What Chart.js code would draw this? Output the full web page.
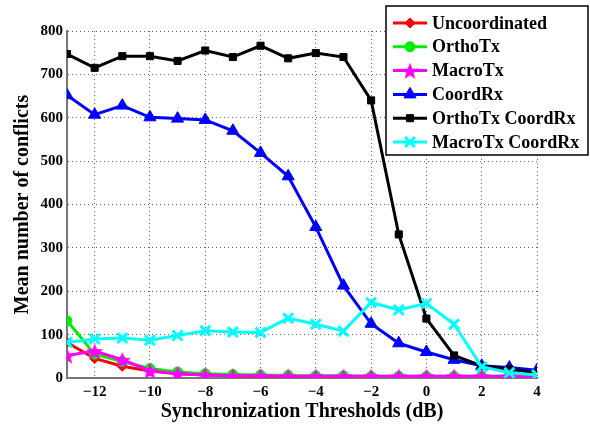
<!DOCTYPE html>
<html>
<head>
<meta charset="utf-8">
<script src="https://cdn.jsdelivr.net/npm/chart.js@4/dist/chart.umd.min.js"></script>
<style>
  html, body { margin: 0; padding: 0; background: #fff; }
  #wrap { width: 590px; height: 424px; position: relative; }
</style>
</head>
<body>
<div id="wrap"><canvas id="chart"></canvas></div>
<script>
// ==================== DATA ====================
const thresholds = [-13, -12, -11, -10, -9, -8, -7, -6, -5, -4, -3, -2, -1, 0, 1, 2, 3, 4];
const xTicks = [-12, -10, -8, -6, -4, -2, 0, 2, 4];
const yTicks = [0, 100, 200, 300, 400, 500, 600, 700, 800];

const seriesNames = ['Uncoordinated', 'OrthoTx', 'MacroTx', 'CoordRx', 'OrthoTx CoordRx', 'MacroTx CoordRx'];
const uncoordinated = [82, 45, 27, 16, 10, 7, 5, 4, 4, 3, 3, 3, 3, 3, 3, 3, 3, 3];
const orthoTx = [132, 55, 38, 22, 14, 10, 8, 7, 6, 5, 5, 4, 4, 4, 4, 4, 4, 4];
const macroTx = [52, 62, 42, 17, 10, 7, 5, 5, 4, 4, 4, 4, 4, 4, 4, 4, 4, 4];
const coordRx = [652, 607, 628, 601, 598, 595, 570, 519, 465, 348, 213, 125, 80, 60, 42, 28, 24, 18];
const orthoTxCoordRx = [747, 715, 742, 742, 731, 755, 740, 766, 737, 749, 740, 640, 331, 137, 52, 28, 20, 12];
const macroTxCoordRx = [82, 90, 92, 87, 98, 109, 106, 105, 138, 124, 108, 174, 157, 172, 124, 26, 12, 7];

const serifFamily = '"Liberation Serif", "DejaVu Serif", serif';

// filled five-point star marker (MATLAB style pentagram)
function makeStar(color, r) {
  const c = document.createElement('canvas');
  const size = Math.ceil(r * 2 + 4);
  c.width = c.height = size;
  const g = c.getContext('2d');
  const cx = size / 2, cy = size / 2 + 1;
  g.beginPath();
  for (let i = 0; i < 10; i++) {
    const rad = i % 2 === 0 ? r : r * 0.42;
    const a = -Math.PI / 2 + i * Math.PI / 5;
    const px = cx + rad * Math.cos(a), py = cy + rad * Math.sin(a);
    if (i === 0) g.moveTo(px, py); else g.lineTo(px, py);
  }
  g.closePath();
  g.fillStyle = color;
  g.fill();
  return c;
}

const starMarker = makeStar('#ff00ff', 9);

const styles = [
  { color: '#ff0000', pointStyle: 'rectRot', radius: 5 },
  { color: '#00ee00', pointStyle: 'circle', radius: 5 },
  { color: '#ff00ff', pointStyle: starMarker, radius: 8 },
  { color: '#0000ff', pointStyle: 'triangle', radius: 7 },
  { color: '#000000', pointStyle: 'rect', radius: 5 },
  { color: '#00ffff', pointStyle: 'crossRot', radius: 7 }
];

const values = [uncoordinated, orthoTx, macroTx, coordRx, orthoTxCoordRx, macroTxCoordRx];

const datasets = values.map((vals, i) => ({
  label: seriesNames[i],
  data: vals.map((v, k) => ({ x: thresholds[k], y: v })),
  borderColor: styles[i].color,
  backgroundColor: styles[i].color,
  pointBorderColor: styles[i].color,
  pointBackgroundColor: styles[i].color,
  pointStyle: styles[i].pointStyle,
  pointRadius: styles[i].radius,
  pointBorderWidth: i === 5 ? 3 : 1,
  borderWidth: 3,
  tension: 0,
  order: 5 - i
}));

// legend box drawn like MATLAB's
const matlabLegend = {
  id: 'matlabLegend',
  afterDraw(chart) {
    const ctx = chart.ctx;
    const left = 386, top = 6, width = 202, height = 149;
    ctx.save();
    ctx.fillStyle = '#fff';
    ctx.fillRect(left, top, width, height);
    ctx.strokeStyle = '#000';
    ctx.lineWidth = 1.5;
    ctx.strokeRect(left, top, width, height);
    ctx.font = 'bold 18px ' + serifFamily;
    ctx.textBaseline = 'middle';
    chart.data.datasets.forEach((ds, i) => {
      const y = 23 + i * 23.8;
      ctx.strokeStyle = ds.borderColor;
      ctx.fillStyle = ds.borderColor;
      ctx.lineWidth = 3;
      ctx.beginPath();
      ctx.moveTo(393, y);
      ctx.lineTo(427, y);
      ctx.stroke();
      ctx.lineWidth = ds.pointBorderWidth;
      Chart.helpers.drawPoint(ctx, {
        pointStyle: ds.pointStyle,
        radius: ds.pointRadius,
        rotation: 0,
        borderWidth: ds.pointBorderWidth
      }, 410, y);
      ctx.fillStyle = '#000';
      ctx.fillText(ds.label, 432, y + 1);
    });
    ctx.restore();
  }
};

const minus = v => (v < 0 ? '\u2212' + Math.abs(v) : String(v));

new Chart(document.getElementById('chart'), {
  type: 'line',
  data: { datasets },
  plugins: [matlabLegend],
  options: {
    responsive: true,
    maintainAspectRatio: false,
    animation: false,
    layout: { padding: { top: 31, right: 53, left: 0, bottom: 0 } },
    plugins: {
      legend: { display: false },
      tooltip: { enabled: false }
    },
    scales: {
      x: {
        type: 'linear',
        min: -13,
        max: 4,
        afterBuildTicks: axis => { axis.ticks = xTicks.map(v => ({ value: v })); },
        afterFit: axis => { axis.height = 46; },
        ticks: {
          color: '#000',
          font: { family: serifFamily, weight: 'bold', size: 15 },
          padding: 5,
          maxRotation: 0,
          callback: v => minus(v)
        },
        grid: {
          color: '#666',
          lineWidth: 1,
          drawTicks: false
        },
        border: { display: true, color: '#777', width: 2, dash: [1, 3] },
        title: {
          display: true,
          text: 'Synchronization Thresholds (dB)',
          color: '#000',
          font: { family: serifFamily, weight: 'bold', size: 20 },
          padding: { top: 0, bottom: 0 }
        }
      },
      y: {
        min: 0,
        max: 800,
        afterBuildTicks: axis => { axis.ticks = yTicks.map(v => ({ value: v })); },
        afterFit: axis => { axis.width = 67; },
        ticks: {
          color: '#000',
          font: { family: serifFamily, weight: 'bold', size: 15 },
          padding: 4
        },
        grid: {
          color: '#666',
          lineWidth: 1,
          drawTicks: false
        },
        border: { display: true, color: '#777', width: 2, dash: [1, 3] },
        title: {
          display: true,
          text: 'Mean number of conflicts',
          color: '#000',
          font: { family: serifFamily, weight: 'bold', size: 20 },
          padding: { top: 11, bottom: 0 }
        }
      }
    }
  }
});
</script>
</body>
</html>
